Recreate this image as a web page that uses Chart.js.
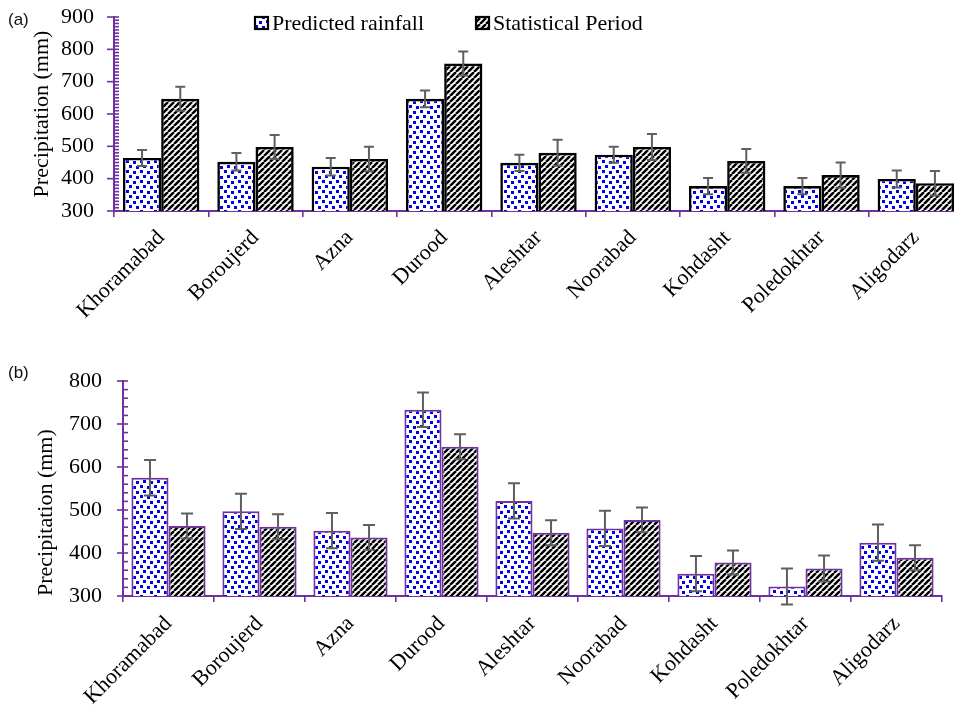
<!DOCTYPE html>
<html>
<head>
<meta charset="utf-8">
<script src="https://cdn.jsdelivr.net/npm/chart.js@4.4.1/dist/chart.umd.min.js"></script>
<style>
  html, body { margin: 0; padding: 0; background: #fff; overflow: hidden; width: 954px; height: 707px; }
  .panel { position: absolute; left: 0; }
  .tag { position: absolute; left: 8px; font: 17px "Liberation Sans", Arial, sans-serif; line-height: 1; color: #111; }
</style>
</head>
<body>
<div class="panel" style="top:0; width:975px; height:345px;"><canvas id="chartA" width="975" height="345"></canvas></div>
<div class="panel" style="top:345px; width:954px; height:362px;"><canvas id="chartB" width="954" height="362"></canvas></div>
<div class="tag" style="top:11px;">(a)</div>
<div class="tag" style="top:364px;">(b)</div>
<script>
// Stations and series
const stations = ['Khoramabad', 'Boroujerd', 'Azna', 'Durood', 'Aleshtar', 'Noorabad', 'Kohdasht', 'Poledokhtar', 'Aligodarz'];
const seriesNames = ['Predicted rainfall', 'Statistical Period'];

// Panel (a): annual precipitation (mm) and error half-widths
const predictedA      = [464, 452, 437, 647, 449, 474, 377, 377, 399];
const predictedErrA   = [25, 27, 27, 26, 25, 25, 25, 25, 26];
const statisticalA    = [647, 498, 461, 756, 480, 498, 455, 411, 386];
const statisticalErrA = [37, 37, 38, 37, 40, 40, 37, 39, 38];

// Panel (b)
const predictedB      = [575, 497, 452, 733, 521, 457, 352, 322, 424];
const predictedErrB   = [41, 41, 41, 40, 41, 41, 41, 42, 42];
const statisticalB    = [463, 461, 436, 647, 447, 477, 378, 364, 389];
const statisticalErrB = [29, 29, 29, 29, 29, 29, 28, 30, 29];

// Y-axis tick values
const yTicksA = [300, 400, 500, 600, 700, 800, 900];
const yTicksB = [300, 400, 500, 600, 700, 800];

const PURPLE = '#7030a0';
const SERIF = '"Liberation Serif", "Times New Roman", serif';

// Fill patterns: blue confetti squares and black diagonal hatching
function dotPattern() {
  const w = 14, h = 10;
  const c = document.createElement('canvas');
  c.width = w; c.height = h;
  const g = c.getContext('2d');
  g.fillStyle = '#fff'; g.fillRect(0, 0, w, h);
  g.fillStyle = '#0000ee';
  [[0, 0], [7, 1], [3, 5], [10, 6]].forEach(([x, y]) => g.fillRect(x, y, 3, 3));
  return g.createPattern(c, 'repeat');
}
function stripePattern() {
  const s = 6;
  const c = document.createElement('canvas');
  c.width = s; c.height = s;
  const g = c.getContext('2d');
  g.fillStyle = '#fff'; g.fillRect(0, 0, s, s);
  g.strokeStyle = '#000'; g.lineWidth = 2.5;
  g.beginPath();
  for (const k of [-s, 0, s]) { g.moveTo(k, s); g.lineTo(k + s, 0); }
  g.stroke();
  return g.createPattern(c, 'repeat');
}

// Error bars drawn from each dataset's `errors` array through the y scale
const errorBarPlugin = {
  id: 'errorBars',
  afterDatasetsDraw(chart, args, opts) {
    const ctx = chart.ctx, ys = chart.scales.y;
    ctx.save();
    ctx.strokeStyle = opts.color; ctx.lineWidth = opts.width;
    chart.data.datasets.forEach((ds, i) => {
      const meta = chart.getDatasetMeta(i);
      meta.data.forEach((bar, j) => {
        const v = ds.data[j], e = ds.errors[j];
        const x = bar.x, yt = ys.getPixelForValue(v + e), yb = ys.getPixelForValue(v - e);
        const h = opts.cap / 2;
        ctx.beginPath();
        ctx.moveTo(x, yt); ctx.lineTo(x, yb);
        ctx.moveTo(x - h, yt); ctx.lineTo(x + h, yt);
        ctx.moveTo(x - h, yb); ctx.lineTo(x + h, yb);
        ctx.stroke();
      });
    });
    ctx.restore();
  }
};

// Major (crossing) and minor (inside) tick marks on the value axis
const yTickMarks = {
  id: 'yTickMarks',
  afterDraw(chart, args, opts) {
    const s = chart.scales.y, ctx = chart.ctx, x = s.right;
    ctx.save();
    ctx.strokeStyle = PURPLE; ctx.lineWidth = 1.6;
    for (let v = s.min; v <= s.max + 1e-6; v += opts.minor) {
      const py = s.getPixelForValue(v);
      const major = Math.abs(v % opts.major) < 1e-6;
      ctx.beginPath();
      ctx.moveTo(major ? x - opts.out : x, py);
      ctx.lineTo(x + opts.inner, py);
      ctx.stroke();
    }
    ctx.restore();
  }
};

// Legend drawn inside the plot of panel (a)
const insideLegend = {
  id: 'insideLegend',
  afterDraw(chart, args, opts) {
    if (!opts.items) return;
    const ctx = chart.ctx;
    ctx.save();
    ctx.font = opts.font;
    ctx.textBaseline = 'middle';
    opts.items.forEach((x, i) => {
      const ds = chart.data.datasets[i];
      ctx.fillStyle = ds.backgroundColor;
      ctx.fillRect(x, opts.y - 6, 13, 12);
      ctx.strokeStyle = '#000'; ctx.lineWidth = 2.2;
      ctx.strokeRect(x, opts.y - 6, 13, 12);
      ctx.fillStyle = '#000';
      ctx.fillText(ds.label, x + 17, opts.y + 1);
    });
    ctx.restore();
  }
};

function buildChart(id, p) {
  return new Chart(document.getElementById(id), {
    type: 'bar',
    data: {
      labels: stations,
      datasets: [
        { label: seriesNames[0], data: p.pred, errors: p.predErr, backgroundColor: dotPattern(),
          borderColor: p.edge, borderWidth: p.edgeWidth, borderSkipped: false },
        { label: seriesNames[1], data: p.stat, errors: p.statErr, backgroundColor: stripePattern(),
          borderColor: p.edge, borderWidth: p.edgeWidth, borderSkipped: false }
      ]
    },
    options: {
      responsive: false,
      animation: false,
      devicePixelRatio: 1,
      layout: { padding: { top: p.padTop, right: p.padRight, left: 0, bottom: 0 } },
      datasets: { bar: { categoryPercentage: p.catPct, barPercentage: 1 } },
      plugins: {
        legend: { display: false },
        tooltip: { enabled: false },
        errorBars: { color: '#5f5f5f', width: 2, cap: p.cap },
        yTickMarks: { minor: p.minor, major: 100, out: p.tickOut, inner: 5 },
        insideLegend: p.legend || {}
      },
      scales: {
        x: {
          afterFit(s) { s.height = p.xHeight; },
          grid: { offset: true, drawOnChartArea: false, drawTicks: true, tickLength: 6, color: PURPLE, lineWidth: 1.6 },
          border: { color: PURPLE, width: 2 },
          ticks: { autoSkip: false, minRotation: 45, maxRotation: 45, padding: p.xPad, color: '#000',
                   font: { family: SERIF, size: 22 } }
        },
        y: {
          min: p.yTicks[0], max: p.yTicks[p.yTicks.length - 1],
          afterFit(s) { s.width = p.yWidth; s.paddingTop = 12; s.paddingBottom = 12; },
          afterBuildTicks(s) { s.ticks = p.yTicks.map(v => ({ value: v })); },
          grid: { display: false, drawTicks: false },
          border: { display: true, color: PURPLE, width: 2 },
          ticks: { padding: p.yPad, color: '#000', font: { family: SERIF, size: 22 } },
          title: { display: true, text: 'Precipitation (mm)', color: '#000', align: p.titleAlign,
                   font: { family: SERIF, size: 22 }, padding: { top: p.titlePad, bottom: 0 } }
        }
      }
    },
    plugins: [errorBarPlugin, yTickMarks, insideLegend]
  });
}

buildChart('chartA', {
  pred: predictedA, predErr: predictedErrA, stat: statisticalA, statErr: statisticalErrA,
  yTicks: yTicksA, edge: '#000', edgeWidth: 2.6, catPct: 0.81, cap: 10,
  padTop: 17, padRight: 12, yWidth: 114, xHeight: 134, xPad: 8, yPad: 20,
  minor: 10, tickOut: 7, titlePad: 29, titleAlign: 'center',
  legend: { items: [255, 476], y: 23, font: '22px ' + SERIF }
});

buildChart('chartB', {
  pred: predictedB, predErr: predictedErrB, stat: statisticalB, statErr: statisticalErrB,
  yTicks: yTicksB, edge: PURPLE, edgeWidth: 2, catPct: 0.815, cap: 12,
  padTop: 36, padRight: 12, yWidth: 123, xHeight: 111, xPad: 9, yPad: 21,
  minor: 20, tickOut: 6, titlePad: 33, titleAlign: 'start'
});
</script>
</body>
</html>
